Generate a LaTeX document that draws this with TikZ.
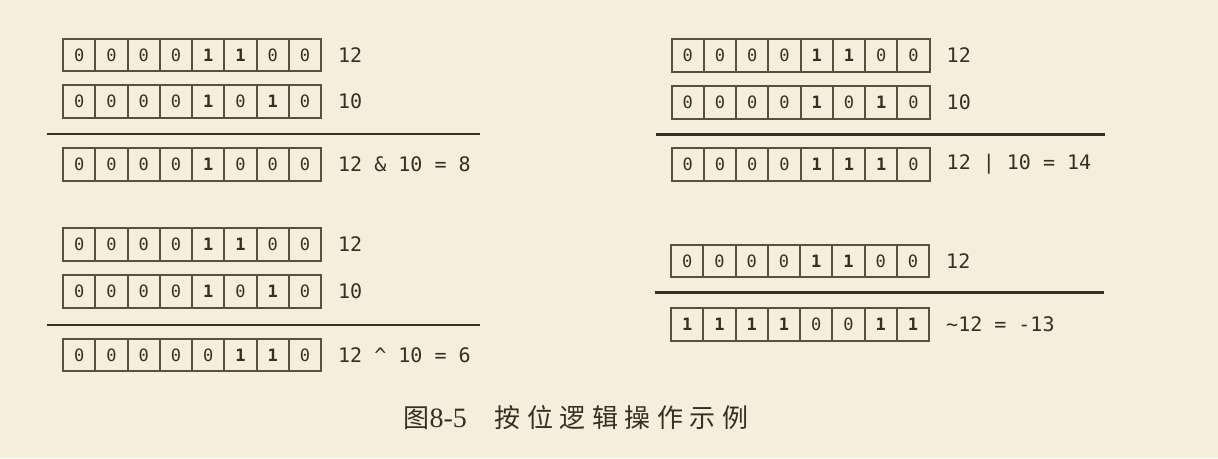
\documentclass[tikz,border=0pt]{standalone}
\usepackage{fontspec}
\usetikzlibrary{positioning}
\newfontfamily\bitfont{DejaVu Sans Mono}
\newfontfamily\cjk{Noto Sans CJK SC}
\newfontfamily\capnum{Liberation Serif}
\definecolor{paper}{HTML}{F5EEDC}
\definecolor{ink}{HTML}{3A2D24}
\definecolor{boxline}{HTML}{5E4E40}

\tikzset{
  bitcell/.style={draw=boxline, line width=2pt, minimum width=32.25pt, minimum height=32.5pt,
    inner sep=0pt, text=ink, font=\bitfont\fontsize{17}{17}\selectfont},
  bitlabel/.style={anchor=west, inner sep=0pt, text=ink, font=\bitfont\fontsize{20}{20}\selectfont},
  sumrule/.style={draw=ink, line width=2.6pt},
}

% one row of eight bits: name, left x, centre y, bits, label
\newcommand\bitrow[5]{%
  \foreach \b [count=\i] in {#4} {
    \ifnum\b=1 \def\bitwt{\bfseries}\else\def\bitwt{}\fi
    \node[bitcell] (#1-\i) at ({#2+(\i-0.5)*32.25},#3) {\bitwt\b};
  }
  \node[bitlabel, right=16pt of #1-8.east] (#1-lbl) {#5};
}

\begin{document}
\begin{tikzpicture}[x=1pt,y=-1pt]
	\fill [paper] (0,0) rectangle (1218,458);
	\useasboundingbox (0,0) rectangle (1218,458);
	% and
	\bitrow{and1}{63}{55}{0,0,0,0,1,1,0,0}{12}
	\bitrow{and2}{63}{101.5}{0,0,0,0,1,0,1,0}{10}
	\draw [sumrule] (47,134) -- (480,134);
	\bitrow{and3}{63}{164.5}{0,0,0,0,1,0,0,0}{12 \& 10 = 8}
	% xor
	\bitrow{xor1}{63}{244.5}{0,0,0,0,1,1,0,0}{12}
	\bitrow{xor2}{63}{291.5}{0,0,0,0,1,0,1,0}{10}
	\draw [sumrule] (47,325) -- (480,325);
	\bitrow{xor3}{63}{355}{0,0,0,0,0,1,1,0}{12 \textasciicircum{} 10 = 6}
	% or
	\bitrow{or1}{671.5}{55.3}{0,0,0,0,1,1,0,0}{12}
	\bitrow{or2}{671.5}{102.5}{0,0,0,0,1,0,1,0}{10}
	\draw [sumrule] (656,134.3) -- (1105,134.3);
	\bitrow{or3}{671.5}{164.5}{0,0,0,0,1,1,1,0}{12 | 10 = 14}
	% not
	\bitrow{not1}{671}{261}{0,0,0,0,1,1,0,0}{12}
	\draw [sumrule] (655,292.7) -- (1104,292.7);
	\bitrow{not2}{671}{324.5}{1,1,1,1,0,0,1,1}{\textasciitilde12 = -13}
	\node [text=ink, inner sep=0pt] (caption) at (576,418)
		{{\cjk\fontsize{26}{26}\selectfont 图}{\capnum\fontsize{28}{28}\selectfont 8-5}\hspace{2.8em}{\cjk\fontsize{26}{26}\selectfont\addfontfeature{LetterSpace=25}按位逻辑操作示例}};
\end{tikzpicture}
\end{document}
